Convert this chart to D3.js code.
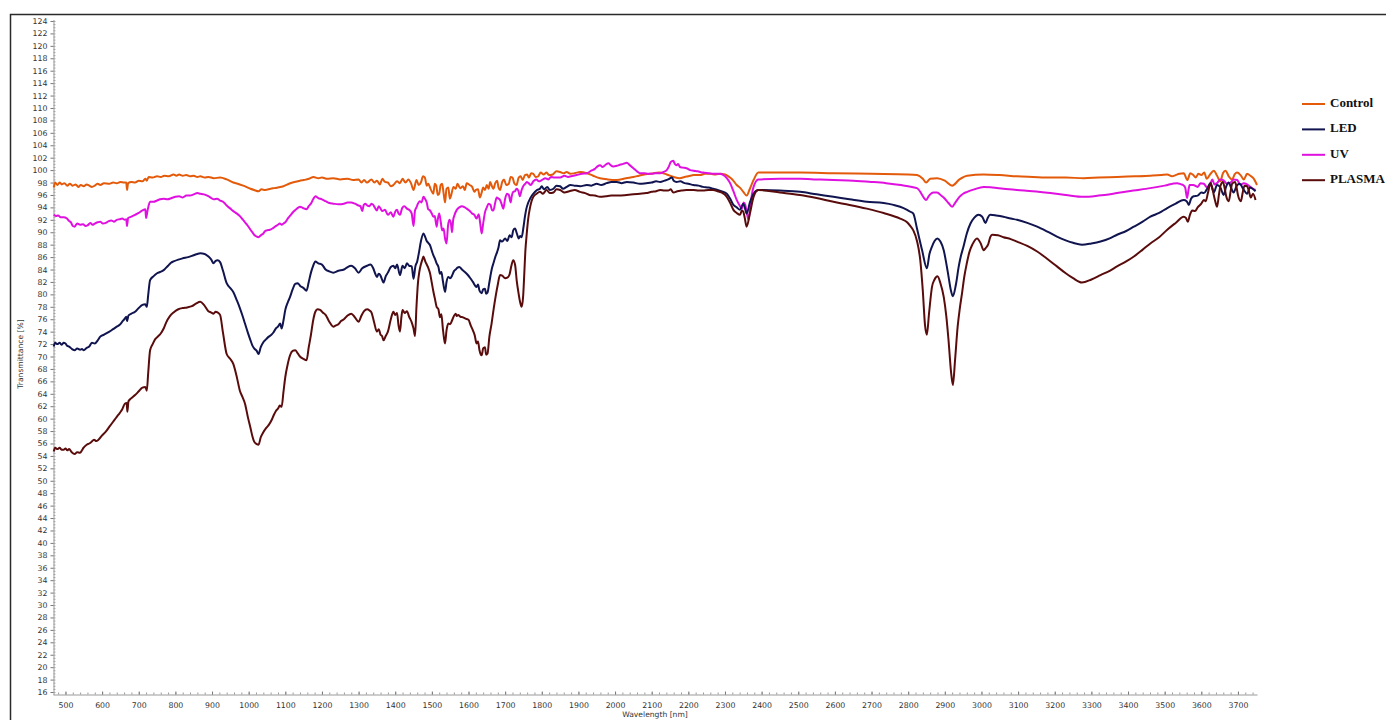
<!DOCTYPE html>
<html>
<head>
<meta charset="utf-8">
<script src="https://cdn.jsdelivr.net/npm/d3@7/dist/d3.min.js"></script>
<style>
  html, body { margin: 0; padding: 0; background: #fff; }
  svg { display: block; }
  .tick text { font-family: "DejaVu Sans", Verdana, sans-serif; font-size: 7.8px; fill: #333; }
</style>
</head>
<body>
<svg id="chart" width="1386" height="720"></svg>
<script>
// Transmittance spectra [wavelength nm, transmittance %]
const controlData = [
  [468,97.2],[472,98.0],[478,97.6],[484,98.0],[490,97.7],[497,97.9],[505,97.5],[512,97.8],[520,97.5],[528,97.7],
  [535,97.3],[542,97.6],[550,97.4],[558,97.7],[565,97.5],[572,97.3],[580,97.5],[588,97.8],[595,97.6],[605,97.9],
  [620,97.8],[630,98.0],[640,97.9],[650,98.1],[660,98.0],[666,98.0],[668,96.8],[671,97.9],[680,98.1],[690,98.0],
  [700,98.3],[710,98.2],[718,98.6],[722,98.3],[727,98.9],[738,98.8],[750,99.0],[760,98.9],[770,99.1],[782,99.0],
  [795,99.3],[803,99.1],[810,99.3],[820,99.1],[830,99.2],[840,99.0],[850,99.1],[860,98.9],[868,99.0],[880,98.8],
  [890,98.9],[905,98.7],[922,98.8],[940,98.5],[958,98.0],[970,97.8],[985,97.5],[1005,97.0],[1015,96.8],[1027,96.6],
  [1035,96.9],[1045,96.8],[1060,97.0],[1070,97.1],[1080,97.2],[1095,97.4],[1110,97.8],[1125,98.1],[1140,98.3],[1150,98.4],
  [1165,98.6],[1177,98.9],[1190,98.7],[1200,98.8],[1215,98.6],[1231,98.7],[1250,98.5],[1270,98.6],[1285,98.4],[1300,98.5],
  [1308,98.0],[1315,98.4],[1323,98.0],[1335,98.5],[1343,98.0],[1350,98.3],[1358,97.7],[1365,98.6],[1372,98.1],[1380,98.0],
  [1388,97.4],[1395,97.6],[1405,98.2],[1413,97.9],[1420,98.6],[1428,98.0],[1436,98.5],[1443,97.9],[1450,96.8],[1458,98.4],
  [1464,97.6],[1470,98.0],[1476,99.0],[1481,98.8],[1486,97.5],[1490,97.8],[1497,96.9],[1504,96.2],[1508,97.8],[1512,97.5],
  [1516,96.0],[1520,96.2],[1524,97.6],[1528,97.8],[1532,96.3],[1536,94.8],[1540,97.0],[1545,97.2],[1549,95.4],[1552,95.8],
  [1559,97.3],[1565,97.0],[1570,97.8],[1577,97.1],[1585,97.4],[1590,96.8],[1595,97.9],[1603,97.6],[1610,97.3],[1616,96.5],
  [1620,96.8],[1626,96.9],[1631,95.6],[1636,96.4],[1640,97.2],[1645,96.8],[1650,97.6],[1655,97.0],[1659,98.1],[1664,97.4],
  [1668,97.0],[1673,97.9],[1678,98.3],[1682,97.2],[1686,96.8],[1692,98.1],[1697,98.5],[1703,97.6],[1710,97.8],[1715,98.9],
  [1720,98.8],[1725,97.9],[1731,97.6],[1737,98.8],[1742,99.0],[1748,98.4],[1754,99.2],[1760,99.3],[1765,98.8],[1771,99.5],
  [1777,99.4],[1783,98.9],[1790,99.0],[1797,99.6],[1805,99.3],[1813,99.6],[1820,99.2],[1830,99.3],[1840,99.8],[1850,99.7],
  [1860,99.5],[1868,99.7],[1878,99.4],[1890,99.5],[1905,99.7],[1923,99.5],[1940,99.1],[1959,98.7],[1980,98.5],[2005,98.4],
  [2030,98.7],[2050,98.9],[2065,99.1],[2080,99.3],[2095,99.4],[2105,99.5],[2120,99.6],[2141,99.3],[2160,98.9],[2177,98.7],
  [2190,98.9],[2200,99.0],[2215,99.2],[2232,99.2],[2245,99.4],[2260,99.4],[2275,99.3],[2287,99.4],[2300,99.3],[2309,99.0],
  [2320,98.5],[2332,97.6],[2342,97.1],[2350,96.5],[2359,95.9],[2368,97.0],[2378,98.4],[2391,99.6],[2450,99.6],[2505,99.6],
  [2596,99.5],[2700,99.4],[2800,99.3],[2824,99.2],[2840,98.6],[2849,98.0],[2860,98.6],[2879,98.7],[2900,98.3],[2920,97.5],
  [2940,98.5],[2961,99.1],[3006,99.3],[3050,99.2],[3097,99.0],[3140,98.9],[3188,98.8],[3230,98.8],[3279,98.7],[3320,98.8],
  [3370,98.9],[3420,99.0],[3461,99.1],[3490,99.2],[3507,99.3],[3520,99.0],[3530,99.2],[3540,99.4],[3552,99.5],[3562,98.4],
  [3570,99.5],[3578,99.2],[3585,98.8],[3592,99.4],[3600,99.2],[3608,99.6],[3615,98.6],[3624,99.3],[3634,99.9],[3643,99.1],
  [3652,98.2],[3659,99.5],[3666,99.9],[3675,99.0],[3684,98.5],[3691,99.3],[3698,99.6],[3707,99.2],[3716,98.5],[3725,99.4],
  [3734,99.1],[3742,98.7],[3752,97.6]
];

const ledData = [
  [468,71.6],[472,72.2],[478,72.0],[484,72.2],[490,71.9],[495,72.2],[500,72.1],[505,71.7],[510,71.6],[518,71.2],
  [525,71.0],[532,71.3],[540,71.1],[545,71.2],[550,71.0],[558,71.4],[565,71.6],[572,72.2],[580,72.1],[588,72.6],
  [595,73.2],[605,73.5],[620,74.0],[630,74.4],[640,74.8],[648,75.1],[655,75.6],[662,76.1],[666,76.4],[668,75.7],
  [672,76.6],[680,76.9],[690,77.2],[700,77.8],[710,78.3],[718,78.4],[722,78.0],[726,80.0],[731,82.3],[740,82.9],
  [750,83.4],[758,83.6],[768,83.9],[775,84.3],[780,84.6],[788,85.1],[795,85.3],[808,85.6],[820,85.8],[835,86.0],
  [850,86.3],[860,86.5],[868,86.6],[880,86.5],[890,86.1],[898,85.6],[904,85.0],[910,85.4],[915,85.5],[922,85.2],
  [930,83.8],[940,81.8],[950,81.0],[958,80.4],[968,79.0],[976,77.8],[983,76.6],[990,75.3],[998,73.8],[1005,72.6],
  [1010,71.8],[1015,71.3],[1022,70.9],[1027,70.4],[1033,71.5],[1040,72.3],[1048,72.8],[1055,73.2],[1062,73.5],[1068,73.9],
  [1074,74.5],[1080,74.8],[1086,75.3],[1090,74.5],[1095,75.8],[1100,77.5],[1106,78.6],[1113,79.6],[1120,80.8],[1127,81.7],
  [1134,81.8],[1140,81.4],[1150,81.0],[1158,80.6],[1164,82.0],[1170,83.5],[1176,84.6],[1182,85.3],[1190,85.0],[1200,84.8],
  [1210,84.0],[1220,83.7],[1231,83.5],[1245,83.8],[1260,84.0],[1270,84.4],[1280,84.6],[1290,84.2],[1300,83.5],[1310,84.2],
  [1323,84.6],[1332,84.8],[1340,84.2],[1345,83.4],[1350,82.8],[1355,83.3],[1360,83.0],[1364,82.4],[1368,81.9],[1374,82.9],
  [1380,83.5],[1388,84.4],[1395,84.6],[1400,84.2],[1405,84.8],[1413,83.1],[1420,84.6],[1426,84.2],[1432,85.0],[1438,84.6],
  [1445,84.5],[1450,82.5],[1455,84.5],[1460,85.3],[1465,86.8],[1470,88.5],[1477,89.8],[1482,89.2],[1486,88.6],[1490,88.3],
  [1495,87.9],[1500,87.0],[1504,86.3],[1508,85.8],[1513,85.0],[1518,84.4],[1522,83.3],[1526,83.6],[1530,82.2],[1536,80.4],
  [1540,82.0],[1545,82.8],[1550,82.6],[1555,83.0],[1560,83.7],[1565,84.0],[1570,84.3],[1575,84.4],[1582,84.0],[1590,83.6],
  [1597,83.2],[1605,82.6],[1612,82.0],[1622,81.2],[1626,81.6],[1630,80.6],[1636,80.2],[1640,80.8],[1645,80.9],[1648,80.1],
  [1652,80.3],[1656,81.6],[1660,83.0],[1664,84.2],[1668,85.0],[1673,86.0],[1678,86.8],[1682,87.6],[1686,88.7],[1692,88.5],
  [1700,89.0],[1706,88.6],[1712,89.5],[1718,89.2],[1722,90.3],[1727,90.6],[1732,89.8],[1737,89.0],[1741,89.4],[1745,89.2],
  [1750,90.8],[1754,92.5],[1758,93.8],[1762,94.6],[1768,95.4],[1774,96.0],[1780,96.4],[1787,96.8],[1795,97.0],[1800,97.4],
  [1806,96.9],[1815,97.3],[1822,96.8],[1832,97.0],[1840,97.5],[1850,97.4],[1858,97.0],[1868,97.3],[1878,97.6],[1890,97.5],
  [1905,97.4],[1923,97.6],[1935,97.5],[1950,97.8],[1962,97.6],[1977,97.9],[1990,98.1],[2005,98.1],[2018,97.9],[2032,98.1],
  [2050,98.0],[2068,97.8],[2085,97.9],[2100,98.0],[2112,98.2],[2123,98.1],[2135,98.3],[2145,98.5],[2155,98.8],[2160,98.3],
  [2168,98.1],[2178,98.2],[2190,97.9],[2200,97.8],[2214,97.6],[2228,97.5],[2240,97.3],[2255,97.2],[2268,97.0],[2280,96.8],
  [2290,96.6],[2305,96.2],[2315,95.3],[2323,94.4],[2332,94.0],[2341,93.6],[2346,94.2],[2350,94.6],[2354,94.0],[2359,93.0],
  [2368,94.8],[2378,96.2],[2391,96.8],[2450,96.7],[2505,96.5],[2550,96.1],[2596,95.7],[2640,95.3],[2687,94.9],[2733,94.7],
  [2760,94.4],[2778,94.1],[2797,93.6],[2806,93.3],[2814,93.0],[2824,90.6],[2838,87.1],[2851,84.2],[2858,86.5],[2865,87.7],
  [2872,88.6],[2880,89.0],[2888,88.5],[2897,87.1],[2904,85.0],[2910,82.9],[2916,80.8],[2922,79.7],[2930,81.5],[2938,84.5],
  [2944,86.2],[2951,87.7],[2960,89.8],[2970,91.4],[2980,92.3],[2992,92.8],[3002,92.5],[3011,91.5],[3017,92.3],[3024,92.8],
  [3040,92.7],[3060,92.5],[3080,92.2],[3097,92.0],[3125,91.5],[3152,90.9],[3180,90.1],[3206,89.3],[3230,88.7],[3250,88.3],
  [3274,88.0],[3300,88.2],[3325,88.5],[3350,89.0],[3370,89.6],[3395,90.2],[3416,90.9],[3440,91.7],[3461,92.5],[3485,93.1],
  [3507,93.9],[3530,94.6],[3552,95.2],[3560,95.0],[3566,94.4],[3572,95.4],[3579,95.8],[3590,95.9],[3600,96.4],[3607,96.3],
  [3615,96.9],[3625,97.9],[3634,96.4],[3643,97.6],[3652,97.2],[3661,96.0],[3668,97.4],[3675,98.0],[3681,97.2],[3688,96.4],
  [3697,97.5],[3705,97.8],[3714,97.0],[3725,96.2],[3733,97.2],[3740,97.0],[3748,96.6]
];

const uvData = [
  [468,92.8],[474,92.6],[480,92.7],[487,92.4],[495,92.4],[504,92.2],[510,91.8],[515,91.6],[520,91.0],[525,90.9],
  [532,91.4],[540,91.2],[548,91.3],[555,91.0],[560,91.1],[568,91.5],[574,91.2],[580,91.4],[588,91.6],[595,91.7],
  [602,91.4],[610,91.5],[618,91.8],[625,91.9],[632,91.7],[640,92.0],[648,92.1],[655,92.2],[662,92.0],[666,92.1],
  [668,91.0],[671,92.3],[680,92.5],[690,92.8],[700,93.1],[710,93.5],[718,93.7],[720,92.3],[724,93.5],[731,94.9],
  [740,94.9],[750,95.1],[758,95.3],[768,95.4],[778,95.3],[790,95.5],[800,95.7],[810,95.8],[820,95.6],[830,95.9],
  [840,95.9],[850,96.1],[860,96.3],[868,96.2],[878,96.1],[890,95.8],[898,95.5],[905,95.3],[914,95.4],[922,95.1],
  [930,94.9],[940,94.3],[950,93.8],[958,93.4],[968,93.0],[976,92.6],[983,92.1],[990,91.6],[998,91.0],[1005,90.4],
  [1010,90.0],[1015,89.6],[1022,89.3],[1027,89.2],[1033,89.5],[1040,89.8],[1045,90.2],[1050,90.3],[1058,90.4],[1065,90.6],
  [1072,90.9],[1080,91.2],[1085,91.4],[1090,91.2],[1095,91.4],[1100,91.6],[1108,92.3],[1115,92.8],[1122,93.3],[1130,93.7],
  [1136,94.0],[1140,94.1],[1148,93.9],[1158,93.7],[1164,94.2],[1170,94.6],[1176,95.3],[1182,95.8],[1190,95.5],[1200,95.3],
  [1210,95.0],[1220,94.7],[1231,94.6],[1245,94.5],[1260,94.6],[1270,94.8],[1280,94.8],[1290,94.6],[1300,94.3],[1305,94.2],
  [1310,93.4],[1314,94.4],[1318,94.6],[1324,94.3],[1330,94.2],[1335,94.6],[1340,94.4],[1345,93.9],[1350,93.5],[1355,94.2],
  [1360,93.8],[1365,93.4],[1372,93.6],[1380,92.8],[1388,93.2],[1395,92.5],[1400,93.3],[1405,93.6],[1409,93.0],[1413,92.8],
  [1419,93.9],[1425,94.2],[1432,93.8],[1440,93.5],[1445,93.0],[1450,91.0],[1454,93.5],[1458,94.0],[1462,94.6],[1467,95.0],
  [1472,94.8],[1477,95.7],[1482,95.3],[1486,94.8],[1490,93.7],[1495,93.5],[1500,93.0],[1504,92.5],[1508,92.6],[1513,90.9],
  [1516,92.0],[1520,93.0],[1524,91.8],[1528,90.3],[1532,90.6],[1536,89.0],[1540,88.2],[1544,91.0],[1548,92.0],[1552,91.4],
  [1555,90.0],[1558,91.9],[1562,92.8],[1568,93.6],[1575,94.0],[1582,94.2],[1590,94.0],[1595,93.8],[1602,93.5],[1610,93.0],
  [1616,92.8],[1622,92.2],[1628,92.9],[1632,91.4],[1636,89.8],[1640,91.4],[1645,93.2],[1650,94.0],[1655,94.6],[1660,94.4],
  [1664,93.6],[1668,93.5],[1673,94.8],[1677,95.6],[1682,95.4],[1686,95.2],[1690,94.6],[1695,93.8],[1700,95.4],[1705,96.2],
  [1710,96.0],[1715,94.8],[1718,95.8],[1722,96.5],[1727,96.6],[1731,97.0],[1736,96.7],[1740,95.8],[1745,96.8],[1750,97.5],
  [1755,97.8],[1759,98.1],[1764,97.9],[1770,97.6],[1777,98.2],[1785,98.5],[1792,98.2],[1800,98.4],[1810,98.7],[1818,98.5],
  [1825,98.9],[1835,98.8],[1850,98.8],[1862,99.1],[1872,98.9],[1880,99.0],[1895,99.2],[1910,99.4],[1923,99.5],[1935,99.9],
  [1945,100.2],[1952,100.6],[1959,100.8],[1966,100.5],[1975,100.9],[1982,101.1],[1988,100.8],[1995,100.6],[2005,100.7],[2015,100.9],
  [2022,101.0],[2032,101.2],[2040,100.8],[2050,100.3],[2060,99.8],[2068,99.5],[2080,99.5],[2090,99.4],[2100,99.4],[2110,99.5],
  [2123,99.5],[2132,99.7],[2141,100.0],[2147,100.6],[2152,101.3],[2159,101.5],[2163,101.0],[2168,100.8],[2172,101.0],[2177,100.5],
  [2185,100.4],[2195,100.3],[2205,100.0],[2214,99.9],[2225,99.8],[2240,99.6],[2255,99.5],[2270,99.4],[2284,99.4],[2296,99.2],
  [2305,98.7],[2314,97.9],[2323,96.6],[2332,95.2],[2340,94.3],[2346,93.8],[2351,94.8],[2355,94.5],[2360,93.0],[2364,92.0],
  [2368,93.6],[2372,95.5],[2378,97.3],[2391,98.5],[2450,98.6],[2505,98.6],[2550,98.5],[2596,98.4],[2650,98.3],[2700,98.1],
  [2740,97.9],[2780,97.6],[2800,97.4],[2824,97.1],[2832,96.6],[2838,96.0],[2849,95.2],[2856,95.8],[2862,96.2],[2870,96.4],
  [2879,96.4],[2890,95.9],[2900,95.4],[2910,94.7],[2920,94.1],[2930,94.9],[2940,95.7],[2950,96.2],[2961,96.5],[2980,96.9],
  [3006,97.3],[3030,97.2],[3060,97.0],[3097,96.8],[3140,96.6],[3188,96.3],[3230,96.0],[3279,95.7],[3320,95.9],[3370,96.3],
  [3415,96.7],[3461,97.1],[3500,97.5],[3534,97.9],[3545,97.7],[3550,97.6],[3556,97.2],[3561,95.5],[3565,96.8],[3568,97.6],
  [3578,97.6],[3590,97.3],[3598,97.9],[3607,97.8],[3614,97.3],[3620,97.2],[3626,98.0],[3630,98.5],[3636,97.7],[3643,97.9],
  [3652,98.5],[3660,98.4],[3670,97.8],[3680,98.0],[3689,98.5],[3698,98.4],[3707,97.6],[3716,97.9],[3725,97.7],[3734,97.3],
  [3741,97.0],[3748,96.8]
];

const plasmaData = [
  [468,54.7],[472,55.3],[478,55.1],[484,55.3],[490,55.0],[495,55.0],[500,55.2],[505,54.9],[510,55.1],[517,54.6],
  [525,54.3],[532,54.6],[540,54.5],[545,54.9],[549,55.3],[558,55.8],[565,56.0],[570,56.2],[578,56.6],[584,56.4],
  [590,56.6],[600,57.3],[610,57.9],[620,58.7],[630,59.5],[640,60.3],[648,60.9],[655,61.5],[662,62.4],[667,62.5],
  [669,61.1],[672,62.8],[680,63.3],[690,63.8],[700,64.4],[710,65.0],[718,65.1],[722,64.5],[726,67.5],[731,71.0],
  [738,72.0],[745,72.8],[752,73.2],[760,73.7],[768,74.5],[775,75.5],[785,76.5],[795,77.1],[808,77.6],[820,77.8],
  [832,77.9],[845,78.1],[856,78.5],[868,78.8],[878,78.3],[890,77.3],[897,77.1],[904,76.9],[910,77.2],[915,77.1],
  [922,76.7],[930,73.8],[940,70.4],[950,69.6],[958,68.8],[968,66.6],[976,64.5],[983,63.5],[990,62.4],[998,60.2],
  [1005,58.5],[1010,57.2],[1015,56.3],[1022,55.9],[1027,55.8],[1033,57.0],[1040,57.8],[1048,58.5],[1055,59.0],[1062,59.7],
  [1068,60.5],[1074,61.2],[1080,61.6],[1085,62.1],[1090,61.9],[1095,64.3],[1100,66.7],[1106,68.6],[1113,70.2],[1120,70.9],
  [1127,71.0],[1134,70.5],[1140,70.0],[1150,69.6],[1158,69.4],[1164,71.5],[1170,73.5],[1176,75.8],[1182,77.2],[1188,77.6],
  [1195,77.5],[1202,77.1],[1210,76.7],[1220,75.6],[1231,74.8],[1238,75.0],[1245,75.2],[1252,75.7],[1260,76.0],[1270,76.6],
  [1280,76.9],[1290,76.3],[1300,75.6],[1308,76.6],[1315,77.3],[1323,77.6],[1330,77.4],[1335,77.1],[1342,75.6],[1350,74.0],
  [1355,74.4],[1360,73.5],[1364,73.3],[1368,72.6],[1374,73.3],[1380,74.0],[1388,76.0],[1395,77.2],[1400,76.7],[1405,77.0],
  [1409,75.0],[1413,74.0],[1417,76.4],[1420,77.5],[1426,77.0],[1432,77.3],[1438,76.4],[1445,75.5],[1450,74.5],[1454,73.3],
  [1458,78.0],[1462,81.8],[1466,83.7],[1470,84.8],[1474,85.6],[1477,86.1],[1482,85.3],[1486,84.8],[1490,84.3],[1495,83.4],
  [1500,81.8],[1504,80.5],[1508,79.4],[1513,78.0],[1518,77.6],[1522,76.3],[1526,76.8],[1530,74.5],[1533,73.0],[1536,72.1],
  [1540,74.2],[1545,75.3],[1550,75.2],[1555,75.8],[1560,76.5],[1565,76.9],[1568,76.5],[1572,76.7],[1578,76.4],[1585,76.3],
  [1592,76.1],[1600,75.9],[1606,75.0],[1612,74.2],[1617,73.4],[1622,72.1],[1626,72.4],[1630,71.0],[1633,70.4],[1636,70.2],
  [1640,71.3],[1645,71.5],[1648,70.3],[1652,70.5],[1657,73.2],[1663,75.3],[1669,77.8],[1675,80.0],[1680,81.6],[1686,83.1],
  [1692,83.0],[1700,82.6],[1706,82.7],[1712,83.2],[1717,84.6],[1722,85.5],[1727,84.8],[1732,82.0],[1736,80.4],[1740,79.0],
  [1745,78.0],[1749,79.6],[1752,83.0],[1755,86.8],[1759,89.8],[1763,92.2],[1768,94.0],[1772,95.0],[1777,95.7],[1786,96.2],
  [1795,96.5],[1803,96.2],[1813,96.8],[1822,96.3],[1832,96.4],[1840,96.9],[1850,96.8],[1862,96.4],[1875,96.6],[1890,96.8],
  [1904,96.5],[1918,96.3],[1930,96.0],[1945,95.9],[1959,95.7],[1975,95.8],[1990,95.9],[2010,95.9],[2032,96.0],[2050,96.1],
  [2068,96.2],[2085,96.3],[2100,96.5],[2112,96.6],[2123,96.8],[2135,96.7],[2145,96.7],[2152,96.9],[2159,96.4],[2170,96.6],
  [2180,96.7],[2195,96.8],[2214,96.8],[2228,96.7],[2240,96.7],[2255,96.8],[2268,96.8],[2280,96.6],[2290,96.4],[2305,95.7],
  [2315,94.6],[2323,93.6],[2332,93.1],[2341,92.8],[2346,93.5],[2350,93.3],[2354,92.3],[2359,90.9],[2368,93.0],[2378,95.7],
  [2391,96.8],[2450,96.4],[2505,96.0],[2550,95.5],[2596,94.9],[2640,94.4],[2687,93.8],[2733,93.1],[2778,92.2],[2797,91.6],
  [2806,91.0],[2814,90.3],[2824,88.6],[2833,85.5],[2840,80.5],[2846,75.0],[2851,73.5],[2857,77.0],[2865,81.2],[2872,82.4],
  [2880,82.9],[2888,81.8],[2897,79.6],[2904,76.5],[2910,72.7],[2917,67.5],[2922,65.4],[2928,69.5],[2935,74.8],[2941,77.8],
  [2947,80.2],[2953,82.8],[2960,85.0],[2967,86.8],[2975,88.0],[2988,89.0],[2998,88.2],[3006,87.1],[3012,87.5],[3018,88.0],
  [3024,89.2],[3029,89.6],[3045,89.5],[3060,89.2],[3080,88.9],[3097,88.5],[3125,87.8],[3152,86.9],[3180,85.7],[3206,84.5],
  [3230,83.4],[3250,82.6],[3274,81.9],[3300,82.4],[3325,83.1],[3350,83.8],[3370,84.5],[3395,85.3],[3416,86.1],[3440,87.2],
  [3461,88.2],[3485,89.2],[3507,90.4],[3530,91.5],[3552,92.5],[3558,92.3],[3563,91.7],[3569,92.8],[3575,93.5],[3583,93.4],
  [3590,94.0],[3600,94.6],[3607,95.2],[3612,95.0],[3618,96.3],[3625,97.9],[3630,97.1],[3634,96.0],[3638,95.0],[3643,94.1],
  [3648,96.0],[3652,97.4],[3659,98.1],[3664,97.0],[3668,95.8],[3675,95.0],[3680,96.6],[3684,97.8],[3692,98.1],[3696,97.3],
  [3700,96.0],[3708,95.0],[3713,96.4],[3718,97.5],[3725,97.4],[3730,96.6],[3735,95.6],[3741,96.2],[3748,95.2]
];

const seriesNames = ["Control", "LED", "UV", "PLASMA"];
const seriesColors = ["#e35a0a", "#10144f", "#e010e0", "#5a0c0c"];
const yTickValues = d3.range(16, 125, 2);
const xTickValues = d3.range(500, 3701, 100);

const svg = d3.select("#chart");
svg.append("rect").attr("width", 1386).attr("height", 720).attr("fill", "#fff");

// outer frame (top and left edges)
svg.append("path")
  .attr("d", "M10.5,720 V14.5 H1386")
  .attr("fill", "none").attr("stroke", "#2a2a2a").attr("stroke-width", 1.5);

const x = d3.scaleLinear().domain([466, 3752]).range([53, 1257]);
const y = d3.scaleLinear().domain([15.6, 124.24]).range([694.5, 19.5]);

// y axis: minor ticks
svg.append("g")
  .attr("transform", "translate(53.5,0)")
  .call(d3.axisRight(y).tickValues(d3.range(16, 124.1, 0.5)).tickSize(2).tickFormat(""))
  .call(g => g.select(".domain").remove())
  .call(g => g.selectAll(".tick line").attr("stroke", "#aaa"));

// y axis: major ticks and labels
svg.append("g")
  .attr("transform", "translate(53.5,0)")
  .call(d3.axisLeft(y).tickValues(yTickValues).tickSize(3).tickPadding(3).tickSizeOuter(0).tickFormat(d3.format("d")))
  .call(g => g.select(".domain").attr("stroke", "#999"))
  .call(g => g.selectAll(".tick line").attr("stroke", "#777"));

// x axis: minor ticks
svg.append("g")
  .attr("transform", "translate(0,694.5)")
  .call(d3.axisBottom(x).tickValues(d3.range(480, 3741, 20)).tickSize(-2).tickFormat(""))
  .call(g => g.select(".domain").remove())
  .call(g => g.selectAll(".tick line").attr("stroke", "#999"));

// x axis: major ticks and labels
svg.append("g")
  .attr("transform", "translate(0,694.5)")
  .call(d3.axisBottom(x).tickValues(xTickValues).tickSize(-3).tickPadding(8).tickSizeOuter(0).tickFormat(d3.format("d")))
  .call(g => g.select(".domain").attr("stroke", "#999"))
  .call(g => g.selectAll(".tick line").attr("stroke", "#777"));

// axis titles
svg.append("text")
  .attr("transform", "translate(22.5,354) rotate(-90)")
  .attr("text-anchor", "middle")
  .attr("font-family", "DejaVu Sans, Verdana, sans-serif")
  .attr("font-size", 7.6).attr("fill", "#333")
  .text("Transmittance [%]");

svg.append("text")
  .attr("x", 655).attr("y", 716.5)
  .attr("text-anchor", "middle")
  .attr("font-family", "DejaVu Sans, Verdana, sans-serif")
  .attr("font-size", 7.6).attr("fill", "#333")
  .text("Wavelength [nm]");

// spectra
const line = d3.line()
  .x(d => x(d[0]))
  .y(d => y(d[1]))
  .curve(d3.curveMonotoneX);

const seriesData = [controlData, ledData, uvData, plasmaData];
const drawOrder = [0, 2, 1, 3];
drawOrder.forEach(i => {
  svg.append("path")
    .datum(seriesData[i])
    .attr("fill", "none")
    .attr("stroke", seriesColors[i])
    .attr("stroke-width", 2)
    .attr("stroke-linejoin", "round")
    .attr("d", line);
});

// legend
const legend = svg.append("g").attr("transform", "translate(1302,104)");
seriesNames.forEach((name, i) => {
  const g = legend.append("g").attr("transform", `translate(0,${i * 25.4})`);
  g.append("line").attr("x1", 0).attr("x2", 23).attr("y1", 0).attr("y2", 0)
    .attr("stroke", seriesColors[i]).attr("stroke-width", 2);
  g.append("text").attr("x", 28).attr("y", 2.8)
    .attr("font-family", "Liberation Serif, 'Times New Roman', serif")
    .attr("font-weight", "bold").attr("font-size", 13).attr("fill", "#111")
    .text(name);
});
</script>
</body>
</html>
